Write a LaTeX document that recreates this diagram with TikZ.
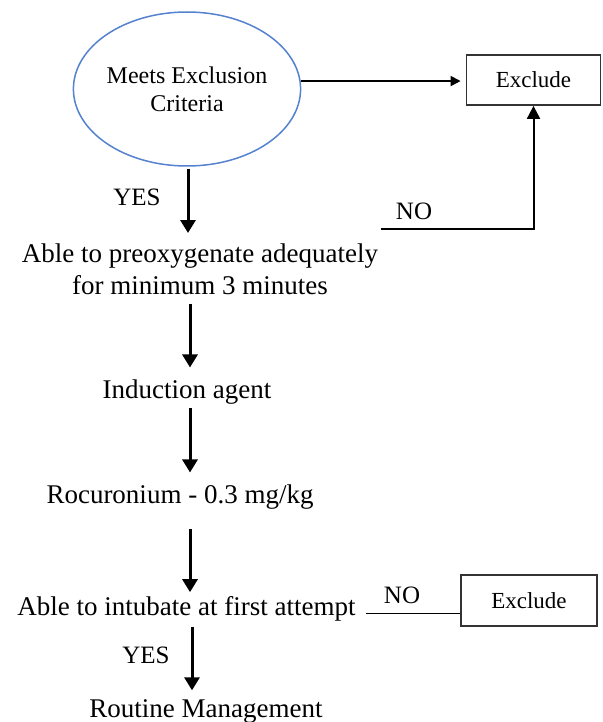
\documentclass[tikz,border=0pt]{standalone}
\usepackage{fontspec}
\setmainfont{Liberation Serif}
\usetikzlibrary{arrows.meta,shapes.geometric,calc}
\definecolor{ellblue}{RGB}{84,130,206}
\begin{document}
\begin{tikzpicture}[x=1pt,y=-1pt,
  body/.style={font=\fontsize{27}{31.6}\selectfont, inner sep=0pt},
  lbl/.style={font=\fontsize{25}{28}\selectfont, inner sep=0pt, anchor=base},
  exbox/.style={draw=black!80, line width=1.8pt, minimum width=134pt, minimum height=50pt, font=\fontsize{23}{26}\selectfont, inner sep=0pt},
  varr/.style={line width=3pt, -{Triangle[width=15pt,length=13pt]}},
  uarr/.style={line width=2pt, -{Triangle[width=13pt,length=13pt]}},
  harr/.style={line width=1.8pt, -{Triangle[width=10pt,length=10pt]}},
  hline/.style={line width=1.8pt}
]
\useasboundingbox (0,0) rectangle (602,722);
\node[ellipse, draw=ellblue, line width=1.5pt, minimum width=208pt, minimum height=154pt, inner sep=0pt, align=center, font=\fontsize{24}{28}\selectfont] (crit) at (187,89) {Meets Exclusion\\Criteria};
\node[exbox] (ex1) at (533.5,80) {Exclude};
\node[exbox, minimum width=136pt, minimum height=51pt] (ex2) at (529,600.5) {Exclude};
\node[body, align=center, anchor=north] (preox) at (200,243.6) {Able to preoxygenate adequately\\for minimum 3 minutes};
\node[body, anchor=base] (induct) at (187,398) {Induction agent};
\node[body, anchor=base] (rocu) at (180,503) {Rocuronium - 0.3 mg/kg};
\node[body, anchor=base] (intub) at (186.5,615) {Able to intubate at first attempt};
\node[body, anchor=base] (routine) at (206,717) {Routine Management};
\node[lbl] (yes1) at (137,205) {YES};
\node[lbl] (no1) at (414,219) {NO};
\node[lbl] (no2) at (402,603) {NO};
\node[lbl] (yes2) at (146,663) {YES};
\coordinate (col) at (190,0);
\coordinate (col2) at (192,0);
\coordinate (nostart) at (381,229);
\draw[harr, shorten >=5pt] (crit.4) -- (crit.4 -| ex1.west);
\draw[varr, shorten <=2pt, shorten >=10.6pt] ([xshift=1pt]crit.south) -- ([xshift=1pt]crit.south |- preox.north);
\draw[varr, shorten <=9pt, shorten >=11.6pt] (col |- preox.south) -- (col |- induct.north);
\draw[varr, shorten <=4pt, shorten >=11.6pt] (col |- induct.south) -- (col |- rocu.north);
\draw[varr, shorten <=20pt, shorten >=3.6pt] (col |- rocu.south) -- (col |- intub.north);
\draw[varr, shorten <=6pt, shorten >=8.6pt] (col2 |- intub.south) -- (col2 |- routine.north);
\draw[uarr] (nostart) -| (ex1.south);
\coordinate (n2) at ($(ex2.south west)!0.255!(ex2.north west)$);
\draw[hline] ([xshift=10pt]n2 -| intub.east) -- (n2);
\end{tikzpicture}
\end{document}
